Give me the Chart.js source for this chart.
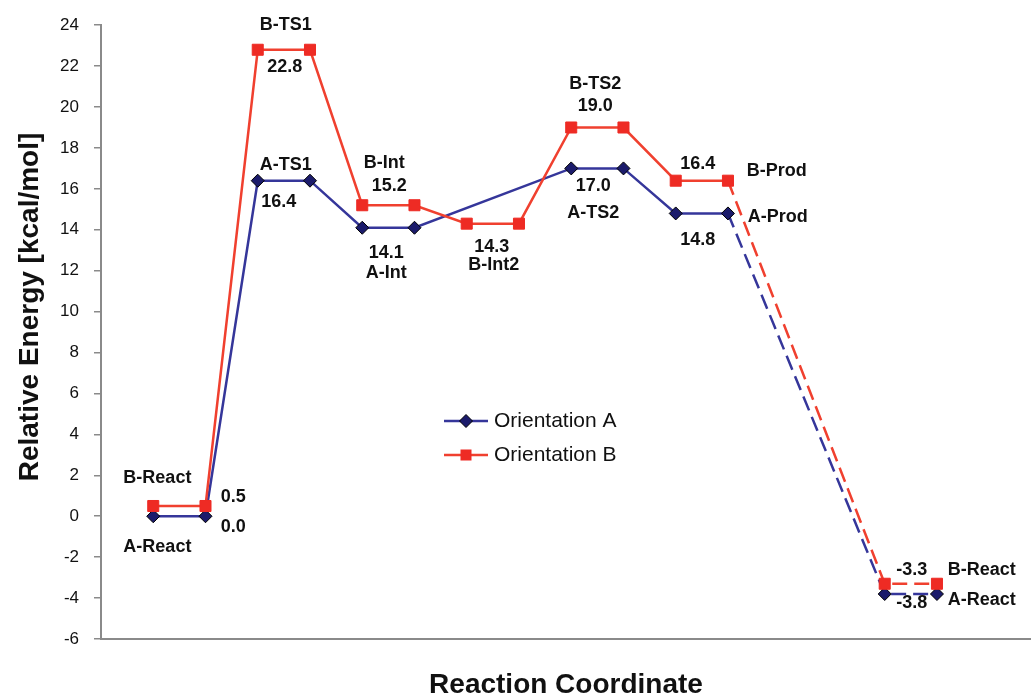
<!DOCTYPE html>
<html>
<head>
<meta charset="utf-8">
<title>Reaction energy profile</title>
<script src="https://cdn.jsdelivr.net/npm/chart.js@4.4.1/dist/chart.umd.min.js"></script>
<style>
  body { margin: 0; background: #fff; }
  #chart { display: block; }
</style>
</head>
<body>
<canvas id="chart" width="1031" height="697"></canvas>
<script>
// two points per level on the reaction coordinate, products pushed out to the right
var steps = [0, 1, 2, 3, 4, 5, 6, 7, 8, 9, 10, 11, 14, 15];
var energyA = [0.0, 0.0, 16.4, 16.4, 14.1, 14.1, null, null, 17.0, 17.0, 14.8, 14.8, -3.8, -3.8];
var energyB = [0.5, 0.5, 22.8, 22.8, 15.2, 15.2, 14.3, 14.3, 19.0, 19.0, 16.4, 16.4, -3.3, -3.3];
// one name per level (pairs of points)
var statesA = ["A-React", "A-TS1", "A-Int", null, "A-TS2", "A-Prod", "A-React"];
var statesB = ["B-React", "B-TS1", "B-Int", "B-Int2", "B-TS2", "B-Prod", "B-React"];
var seriesNames = ["Orientation A", "Orientation B"];
var yTitle = "Relative Energy [kcal/mol]";
var xTitle = "Reaction Coordinate";
var yMin = -6, yMax = 24, yStep = 2;

var blue = "#35369a", navy = "#1b1b6b", red = "#f0402f", redFill = "#ee2b24";
var fontFam = "'Liberation Sans', Arial, sans-serif";

function toPoints(vals) {
    var pts = [];
    for (var i = 0; i < steps.length; i++) {
        pts.push({ x: steps[i], y: vals[i] });
    }
    return pts;
}

// pixel offsets of the name / value text from the middle of each level
// [nameDx, nameDy, valueDx, valueDy]
var placeA = [[-22, 31, 54, 11], [2, -16, -5, 21], [-2, 45, -2, 25], null,
              [-4, 45, -4, 18], [76, 4, -4, 27], [71, 6, 1, 9]];
var placeB = [[-22, -28, 54, -9], [2, -25, 1, 17], [-4, -42, 1, -19], [1, 41, -1, 23],
              [-2, -43, -2, -21], [75, -10, -4, -17], [71, -14, 1, -14]];

var levelLabels = {
    id: "levelLabels",
    afterDatasetsDraw: function(chart) {
        var ctx = chart.ctx;
        var xs = chart.scales.x, ys = chart.scales.y;
        ctx.save();
        ctx.font = "bold 18px " + fontFam;
        ctx.fillStyle = "#111";
        ctx.textAlign = "center";
        ctx.textBaseline = "middle";
        [[statesA, energyA, placeA], [statesB, energyB, placeB]].forEach(function(s) {
            var names = s[0], vals = s[1], place = s[2];
            for (var k = 0; k < names.length; k++) {
                var p = place[k];
                if (!p || names[k] === null) continue;
                var v = vals[2 * k];
                var cx = (xs.getPixelForValue(steps[2 * k]) + xs.getPixelForValue(steps[2 * k + 1])) / 2;
                var cy = ys.getPixelForValue(v);
                ctx.fillText(names[k], cx + p[0], cy + p[1]);
                ctx.fillText(v.toFixed(1), cx + p[2], cy + p[3]);
            }
        });

        // y axis title, sits a bit above the middle of the axis like the original
        ctx.font = "bold 28px " + fontFam;
        ctx.translate(30, 307);
        ctx.rotate(-Math.PI / 2);
        ctx.fillText(yTitle, 0, 0);
        ctx.restore();
    }
};

function diamond(ctx, x, y, r) {
    ctx.beginPath();
    ctx.moveTo(x - r, y); ctx.lineTo(x, y - r); ctx.lineTo(x + r, y); ctx.lineTo(x, y + r);
    ctx.closePath();
}

var legendBox = {
    id: "legendBox",
    afterDraw: function(chart) {
        var ctx = chart.ctx;
        ctx.save();
        ctx.font = "21px " + fontFam;
        ctx.textBaseline = "middle";
        ctx.textAlign = "left";
        var rows = [
            { y: 421, line: blue, name: seriesNames[0] },
            { y: 455, line: red, name: seriesNames[1] }
        ];
        rows.forEach(function(r, i) {
            ctx.strokeStyle = r.line;
            ctx.lineWidth = 2.5;
            ctx.beginPath(); ctx.moveTo(444, r.y); ctx.lineTo(488, r.y); ctx.stroke();
            if (i === 0) {
                diamond(ctx, 466, r.y, 6.5);
                ctx.fillStyle = navy; ctx.fill();
                ctx.lineWidth = 1; ctx.strokeStyle = "#000"; ctx.stroke();
            } else {
                ctx.fillStyle = redFill;
                ctx.fillRect(460.5, r.y - 5.5, 11, 11);
            }
            ctx.fillStyle = "#111";
            ctx.fillText(r.name, 494, r.y);
        });
        ctx.restore();
    }
};

var dashTail = function(c) { return c.p0.parsed.x >= 11 ? [15, 7] : undefined; };

var ctx = document.getElementById("chart");
var chart = new Chart(ctx, {
    type: "line",
    data: {
        datasets: [{
            label: seriesNames[0],
            data: toPoints(energyA),
            borderColor: blue,
            borderWidth: 2.5,
            pointStyle: "rectRot",
            pointRadius: 6.5,
            pointBackgroundColor: navy,
            pointBorderColor: "#000",
            pointBorderWidth: 1,
            spanGaps: true,
            fill: false,
            tension: 0,
            clip: false,
            order: 1,
            segment: { borderDash: dashTail }
        }, {
            label: seriesNames[1],
            data: toPoints(energyB),
            borderColor: red,
            borderWidth: 2.5,
            pointStyle: "rect",
            pointRadius: 7.8,
            pointBackgroundColor: redFill,
            pointBorderColor: redFill,
            pointBorderWidth: 1,
            fill: false,
            tension: 0,
            clip: false,
            order: 0,
            segment: { borderDash: dashTail }
        }]
    },
    options: {
        responsive: false,
        animation: false,
        events: [],
        layout: { autoPadding: false, padding: { top: 13, right: 0, left: 0, bottom: 0 } },
        plugins: {
            legend: { display: false },
            tooltip: { enabled: false }
        },
        scales: {
            x: {
                type: "linear",
                min: -1,
                max: 16.8,
                grid: { display: false },
                ticks: { display: false },
                border: { display: true, color: "#8a8a8a", width: 2 },
                title: {
                    display: true,
                    text: xTitle,
                    color: "#111",
                    font: { family: fontFam, size: 28, weight: "bold", lineHeight: 0.8 },
                    padding: { top: 0, bottom: 1 }
                },
                afterFit: function(scale) { scale.height = 58; }
            },
            y: {
                min: yMin,
                max: yMax,
                ticks: {
                    stepSize: yStep,
                    color: "#111",
                    padding: 15,
                    font: { family: fontFam, size: 17 }
                },
                grid: { drawOnChartArea: false, tickLength: 7, color: "#8a8a8a", lineWidth: 1.5 },
                border: { display: true, color: "#8a8a8a", width: 2 },
                afterFit: function(scale) { scale.width = 101; }
            }
        }
    },
    plugins: [levelLabels, legendBox]
});
</script>
</body>
</html>
